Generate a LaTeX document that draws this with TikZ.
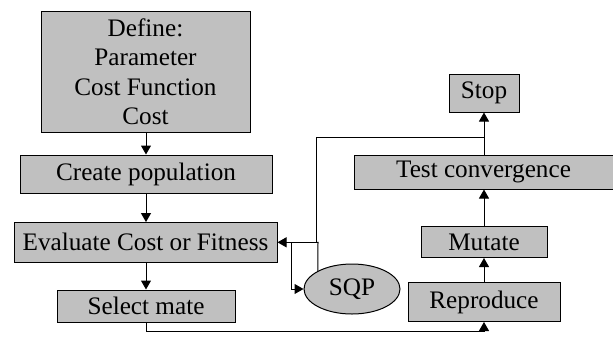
\documentclass[tikz,border=0pt]{standalone}
\usepackage{fontspec}
\setmainfont{Liberation Serif}
\usetikzlibrary{arrows.meta,shapes.geometric}
\definecolor{boxgray}{RGB}{192,192,192}
\begin{document}
\begin{tikzpicture}[x=1pt,y=-1pt,
  every node/.style={font=\fontsize{25.2}{29.5}\selectfont, inner sep=0pt, text=black},
  box/.style={draw=black, fill=boxgray, line width=1pt},
  conn/.style={line width=1pt, draw=black},
  arr/.style={conn, -{Triangle[width=10pt,length=9pt]}}]
\useasboundingbox (0,0) rectangle (613,341);
\node[box, minimum width=209pt, minimum height=121pt, align=center] (def) at (145.5,71.5) {Define:\\Parameter\\Cost Function\\Cost};
\node[box, minimum width=252pt, minimum height=38pt] (create) at (146,174) {Create population};
\node[box, minimum width=263pt, minimum height=39.5pt] (eval) at (145.5,242.3) {Evaluate Cost or Fitness};
\node[box, minimum width=178pt, minimum height=32pt] (select) at (146,306) {Select mate};
\node[box, ellipse, minimum width=96pt, minimum height=50pt] (sqp) at (352,289) {SQP};
\node[box, minimum width=70pt, minimum height=38pt] (stop) at (484,93) {Stop};
\node[box, minimum width=259pt, minimum height=34pt] (test) at (483.5,172) {Test convergence};
\node[box, minimum width=126pt, minimum height=31pt] (mutate) at (484,242) {Mutate};
\node[box, minimum width=152pt, minimum height=39pt] (repro) at (484,302) {Reproduce};
\coordinate (jt) at (484,137);
\coordinate (jl) at (316,137);
\coordinate (je) at (318,242.3);
\coordinate (jd) at (291,242.3);
\coordinate (jb) at (146,331);
\draw[arr] (def.south -| 146,0) -- (create.north);
\draw[arr] (create.south) -- (eval.north -| create.south);
\draw[arr] (eval.south -| 146,0) -- (select.north);
\draw[arr] (select.south) -- (jb) -| (repro.south);
\draw[arr] (repro.north) -- (mutate.south);
\draw[arr] (mutate.north) -- (test.south -| mutate.north);
\draw[conn] (test.north -| jt) -- (jt);
\draw[arr] (jt) -- (stop.south -| jt);
\draw[arr] (jt) -- (jl) -- (jl |- eval.east) -- (eval.east);
\draw[conn] (sqp.152.6) -- (je) -- (jl |- eval.east);
\draw[arr] (jd) -- (jd |- sqp.west) -- (sqp.west);
\end{tikzpicture}
\end{document}
